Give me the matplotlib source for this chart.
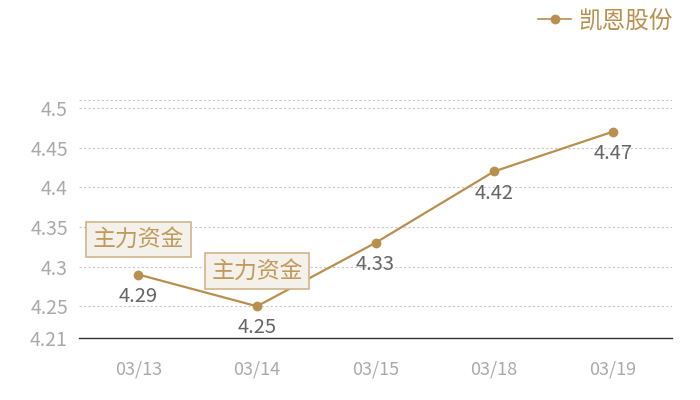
import numpy as np
import matplotlib.pyplot as plt
from matplotlib.lines import Line2D

plt.rcParams['font.family'] = ['Noto Sans CJK SC', 'DejaVu Sans']

dates = ['03/13', '03/14', '03/15', '03/18', '03/19']
prices = [4.29, 4.25, 4.33, 4.42, 4.47]
yticks = [4.21, 4.25, 4.3, 4.35, 4.4, 4.45, 4.5]
ytick_labels = ['4.21', '4.25', '4.3', '4.35', '4.4', '4.45', '4.5']
flag_idx = [0, 1]
flag_text = '主力资金'
series_name = '凯恩股份'

gold = '#b98f4e'

fig = plt.figure(figsize=(7, 4), dpi=100)
ax = fig.add_axes([0.113, 0.155, 0.847, 0.595])

x = np.arange(len(dates))
ax.plot(x, prices, color=gold, lw=1.6, marker='o', ms=6, zorder=3)

ax.set_xlim(-0.5, len(dates) - 0.5)
ax.set_ylim(4.21, 4.51)
ax.set_yticks(yticks)
ax.set_yticklabels(ytick_labels)
ax.set_xticks(x)
ax.set_xticklabels(dates)

for y in yticks[1:] + [4.51]:
    ax.axhline(y, color='#c8c8c8', lw=0.8, ls=(0, (2, 2)), zorder=1)

for s in ['top', 'right', 'left']:
    ax.spines[s].set_visible(False)
ax.spines['bottom'].set_color('#333333')
ax.spines['bottom'].set_linewidth(1.0)
ax.tick_params(axis='y', length=0, pad=8, labelsize=14, labelcolor='#aaaaaa')
ax.tick_params(axis='x', length=0, pad=16, labelsize=13, labelcolor='#aaaaaa')

for xi, v in zip(x, prices):
    ax.annotate(f'{v:.2f}', (xi, v), xytext=(0, -8), textcoords='offset points',
                ha='center', va='top', fontsize=14.5, color='#666666')

for i in flag_idx:
    ax.annotate(flag_text, (x[i], prices[i]), xytext=(0, 17), textcoords='offset points',
                ha='center', va='bottom', fontsize=16.5, color='#c09a5c',
                bbox=dict(boxstyle='square,pad=0.28', fc='#f4f0ea', ec='#d2b48c', lw=1.2),
                zorder=4)

handle = Line2D([], [], color=gold, lw=1.2, marker='o', ms=6)
leg = fig.legend([handle], [series_name], loc='upper right', bbox_to_anchor=(0.975, 1.0),
                 frameon=False, fontsize=17, handlelength=1.4, handletextpad=0.3,
                 borderaxespad=0.0)
for t in leg.get_texts():
    t.set_color(gold)

fig.savefig('out.png', dpi=100)
